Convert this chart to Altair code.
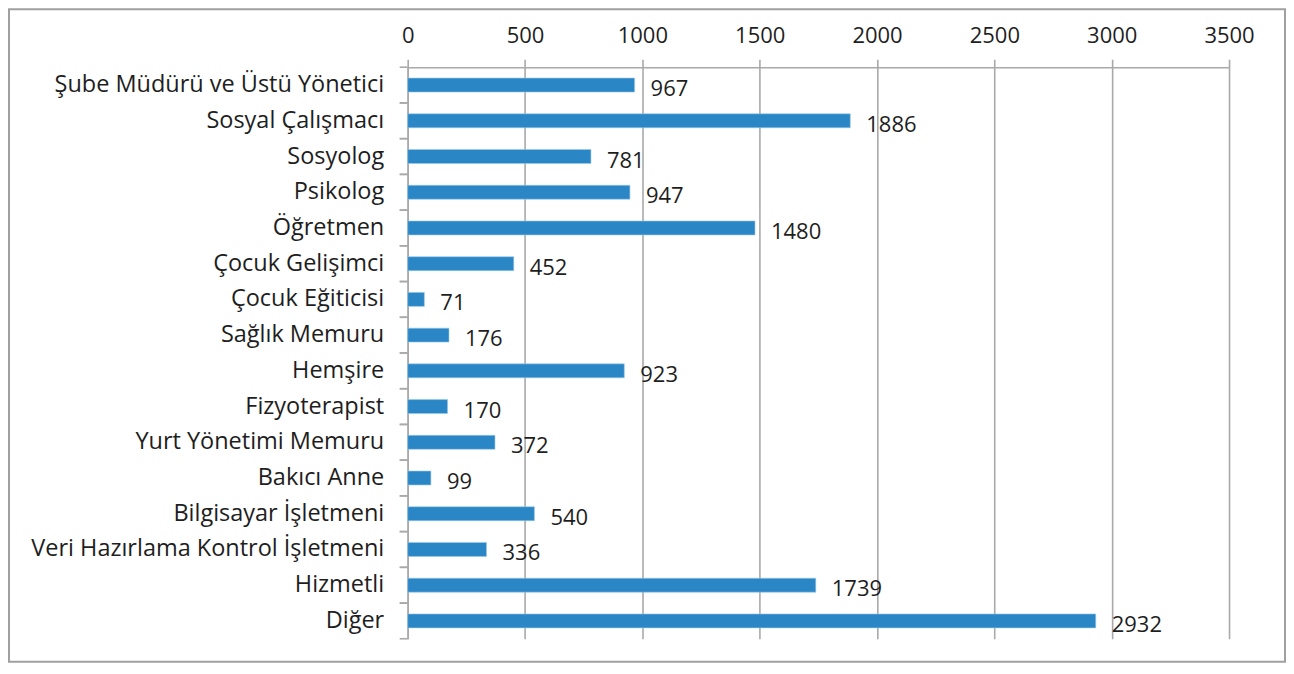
import altair as alt
import pandas as pd

categories = [
    "Şube Müdürü ve Üstü Yönetici", "Sosyal Çalışmacı", "Sosyolog", "Psikolog",
    "Öğretmen", "Çocuk Gelişimci", "Çocuk Eğiticisi", "Sağlık Memuru", "Hemşire",
    "Fizyoterapist", "Yurt Yönetimi Memuru", "Bakıcı Anne", "Bilgisayar İşletmeni",
    "Veri Hazırlama Kontrol İşletmeni", "Hizmetli", "Diğer",
]
values = [967, 1886, 781, 947, 1480, 452, 71, 176, 923, 170, 372, 99, 540, 336, 1739, 2932]
x_ticks = [0, 500, 1000, 1500, 2000, 2500, 3000, 3500]

df = pd.DataFrame({"cat": categories, "val": values})

W, H = 822, 572
PL, PT, PR, PB = 400, 59, 57, 24
FONT = "Open Sans"
GRID = "#a9a9a9"
TXT = "#1e1e1e"

yscale = alt.Scale(domain=categories, paddingInner=0, paddingOuter=0)
xscale = alt.Scale(domain=[0, 3500], nice=False)

base = alt.Chart(df)

bars = base.mark_bar(color="#2b86c6", height=14, stroke="#9ccbea", strokeWidth=0.6).encode(
    x=alt.X("val:Q", scale=xscale,
            axis=alt.Axis(orient="top", values=x_ticks, format="d", title=None, grid=True,
                          gridColor=GRID, gridWidth=1.6, domainColor=GRID, domainWidth=1.6,
                          tickColor=GRID, tickWidth=1.6, tickSize=8, labelFlush=False,
                          labelFont=FONT, labelFontSize=22, labelColor=TXT,
                          labelPadding=12)),
    y=alt.Y("cat:N", scale=yscale, sort=categories,
            axis=alt.Axis(title=None, ticks=False, tickSize=0, domainColor=GRID,
                          domainWidth=1.6, labelFont=FONT, labelFontSize=23.5,
                          labelColor=TXT, labelPadding=24, labelLimit=400)),
)

labels = base.mark_text(align="left", baseline="middle", dx=16, dy=4,
                        font=FONT, fontSize=22, color=TXT).encode(
    x=alt.X("val:Q", scale=xscale),
    y=alt.Y("cat:N", scale=yscale, sort=categories),
    text=alt.Text("val:Q"),
)

ticks_top = base.mark_rule(color=GRID, strokeWidth=1.6).encode(
    y=alt.Y("cat:N", scale=yscale, sort=categories, bandPosition=0),
    x=alt.value(-8), x2=alt.value(0),
)
ticks_bot = base.mark_rule(color=GRID, strokeWidth=1.6).encode(
    y=alt.Y("cat:N", scale=yscale, sort=categories, bandPosition=1),
    x=alt.value(-8), x2=alt.value(0),
)

frame = alt.Chart(pd.DataFrame({"a": [0]})).mark_rect(
    fill=None, stroke="#a0a0a0", strokeWidth=2).encode(
    x=alt.value(-PL + 1), x2=alt.value(W + PR - 1),
    y=alt.value(-PT + 1), y2=alt.value(H + PB - 1),
)

chart = alt.layer(frame, bars, ticks_top, ticks_bot, labels).properties(
    width=W, height=H,
    padding={"left": PL, "top": PT, "right": PR, "bottom": PB},
    autosize=alt.AutoSizeParams(type="none"),
    background="white",
).configure_view(stroke=None)

chart.save("out.html", embed_options={"renderer": "svg", "actions": False})
